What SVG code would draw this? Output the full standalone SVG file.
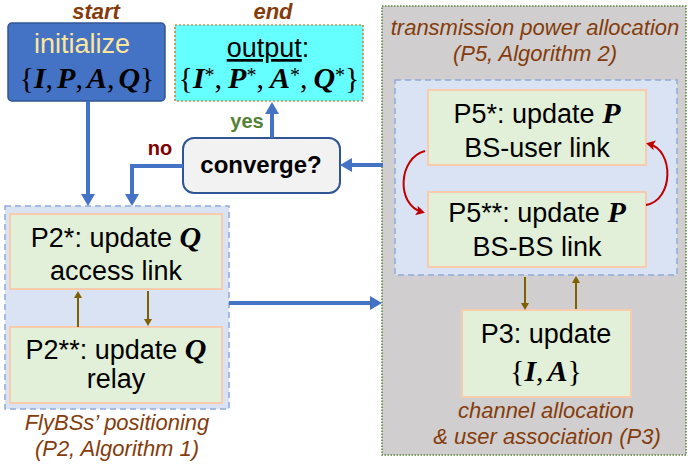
<svg xmlns="http://www.w3.org/2000/svg" width="688" height="468" viewBox="0 0 688 468">
<defs>
<style>
.t{font-family:"Liberation Sans",Arial,sans-serif;font-size:27px;fill:#000;text-anchor:middle}
.m{font-family:"Liberation Serif","Times New Roman",serif;font-size:30px;fill:#000;text-anchor:middle}
.bi{font-family:"Liberation Serif","Times New Roman",serif;font-size:30px;font-weight:bold;font-style:italic}
.sup{font-size:20px;font-style:normal;font-weight:normal}
.cap{font-family:"Liberation Sans",Arial,sans-serif;font-size:22px;font-style:italic;fill:#843C0C;text-anchor:middle}
.lbl{font-family:"Liberation Sans",Arial,sans-serif;font-weight:bold;text-anchor:middle}
.box{fill:#E2F0D9;stroke:#F8CBAD;stroke-width:2}
.grp{fill:#DAE3F3;stroke:#8FAADC;stroke-width:1.5;stroke-dasharray:6 4}
.blue{stroke:#4472C4;stroke-width:4;fill:none}
.brown{stroke:#7F6000;stroke-width:2;fill:none}
.red{stroke:#C00000;stroke-width:2;fill:none}
</style>
<marker id="ab" markerUnits="userSpaceOnUse" viewBox="0 0 12 14" refX="6" refY="7" markerWidth="12" markerHeight="14" orient="auto"><path d="M0,0 L12,7 L0,14 Z" fill="#4472C4"/></marker>
<marker id="an" markerUnits="userSpaceOnUse" viewBox="0 0 7 8" refX="5" refY="4" markerWidth="7" markerHeight="8" orient="auto"><path d="M0,0 L7,4 L0,8 Z" fill="#7F6000"/></marker>
<marker id="ar" markerUnits="userSpaceOnUse" viewBox="0 0 9 10" refX="6" refY="5" markerWidth="9" markerHeight="10" orient="auto"><path d="M0,0 L9,5 L0,10 L2,5 Z" fill="#C00000"/></marker>
</defs>

<g id="power-group">
<rect x="382" y="6" width="304" height="449" fill="#D0CECE" stroke="#548235" stroke-width="1.5" stroke-dasharray="1.5 1.5"/>
<text class="cap" x="535" y="35">transmission power allocation</text>
<text class="cap" x="535" y="61">(P5, Algorithm 2)</text>
<rect class="grp" x="395" y="80" width="282" height="195"/>
<text class="cap" x="546" y="418">channel allocation</text>
<text class="cap" x="547" y="444">&amp; user association (P3)</text>
</g>

<g id="position-group">
<rect class="grp" x="5" y="206" width="224" height="203"/>
<text class="cap" x="117" y="430">FlyBSs’ positioning</text>
<text class="cap" x="117" y="456">(P2, Algorithm 1)</text>
</g>

<g id="start">
<text class="lbl" x="96" y="19" font-size="22" font-style="italic" fill="#843C0C">start</text>
<rect x="8" y="23" width="157" height="78" rx="4" fill="#4472C4" stroke="#2F5597" stroke-width="1.5"/>
<text class="t" x="82" y="53" style="fill:#FFE699">initialize</text>
<text class="m" x="87" y="88">{<tspan class="bi">I</tspan>,<tspan class="bi" dx="4">P</tspan>,<tspan class="bi" dx="4">A</tspan>,<tspan class="bi" dx="4">Q</tspan>}</text>
</g>

<g id="end">
<text class="lbl" x="273" y="19" font-size="22" font-style="italic" fill="#843C0C">end</text>
<rect x="175" y="25" width="188" height="76" fill="#66FFFF" stroke="#C55A11" stroke-width="1.2" stroke-dasharray="2 2"/>
<text class="t" x="268" y="57"><tspan text-decoration="underline">output</tspan>:</text>
<text class="m" x="269" y="88">{<tspan class="bi">I</tspan><tspan class="sup" dy="-6">*</tspan><tspan dy="6">,</tspan><tspan class="bi" dx="6">P</tspan><tspan class="sup" dy="-6">*</tspan><tspan dy="6">,</tspan><tspan class="bi" dx="6">A</tspan><tspan class="sup" dy="-6">*</tspan><tspan dy="6">,</tspan><tspan class="bi" dx="6">Q</tspan><tspan class="sup" dy="-6">*</tspan><tspan dy="6">}</tspan></text>
</g>

<g id="converge">
<rect x="183" y="138" width="157" height="55" rx="11" fill="#F2F2F2" stroke="#2F5597" stroke-width="2"/>
<text class="lbl" x="261" y="173" font-size="24">converge?</text>
</g>

<g id="p2a">
<rect class="box" x="10" y="214" width="212" height="75"/>
<text class="t" x="116" y="247">P2*: update <tspan class="bi">Q</tspan></text>
<text class="t" x="116" y="280">access link</text>
</g>

<g id="p2b">
<rect class="box" x="10" y="327" width="212" height="76"/>
<text class="t" x="116" y="359">P2**: update <tspan class="bi">Q</tspan></text>
<text class="t" x="116" y="388">relay</text>
</g>

<g id="p5a">
<rect class="box" x="428" y="90" width="218" height="75"/>
<text class="t" x="537" y="123">P5*: update <tspan class="bi">P</tspan></text>
<text class="t" x="537" y="157">BS-user link</text>
</g>

<g id="p5b">
<rect class="box" x="428" y="192" width="218" height="75"/>
<text class="t" x="537" y="222">P5**: update <tspan class="bi">P</tspan></text>
<text class="t" x="537" y="256">BS-BS link</text>
</g>

<g id="p3">
<rect class="box" x="462" y="310" width="169" height="87"/>
<text class="t" x="546" y="343">P3: update</text>
<text class="m" x="546" y="381">{<tspan class="bi">I</tspan>,<tspan class="bi" dx="4">A</tspan>}</text>
</g>

<g id="connectors">
<path class="blue" d="M88,101 V200" marker-end="url(#ab)"/>
<path class="blue" d="M183,166 H132 V200" marker-end="url(#ab)"/>
<path class="blue" d="M272,138 V108" marker-end="url(#ab)"/>
<path class="blue" d="M383,165 H346" marker-end="url(#ab)"/>
<path class="blue" d="M229,303 H376" marker-end="url(#ab)"/>
<text class="lbl" x="160" y="155" font-size="20" fill="#7F0000">no</text>
<text class="lbl" x="247" y="128" font-size="20" fill="#548235">yes</text>
<path class="brown" d="M78,327 V293" marker-end="url(#an)"/>
<path class="brown" d="M148,291 V324" marker-end="url(#an)"/>
<path class="brown" d="M525,277 V308" marker-end="url(#an)"/>
<path class="brown" d="M576,309 V278" marker-end="url(#an)"/>
<path class="red" d="M425,151 C398,158 396,205 422,212" marker-end="url(#ar)"/>
<path class="red" d="M646,205 C674,200 674,150 649,144" marker-end="url(#ar)"/>
</g>
</svg>
